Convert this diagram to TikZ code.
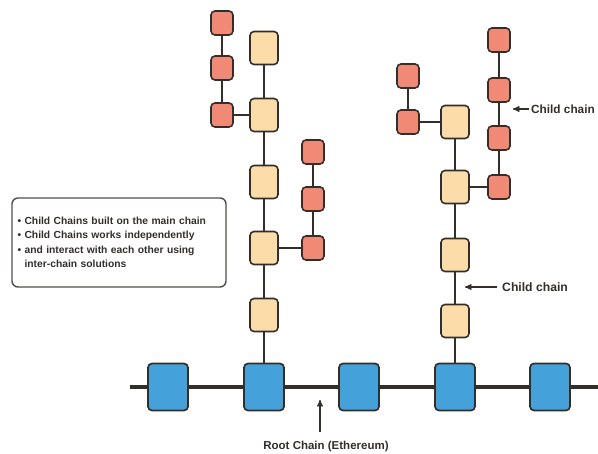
\documentclass[tikz,border=0pt]{standalone}
\usepackage{fontspec}
\setmainfont{Liberation Sans}
\usetikzlibrary{arrows}
\usepackage{xcolor}
\definecolor{rootblue}{HTML}{45A1DA}
\definecolor{chainbeige}{HTML}{FCDCA8}
\definecolor{chainred}{HTML}{F08A76}
\definecolor{darkline}{HTML}{332E2A}

\begin{document}
\begin{tikzpicture}[x=1pt,y=-1pt,>=stealth',
	root node/.style={draw=darkline,fill=rootblue,rounded corners=4pt,line width=1.7pt,minimum width=40pt,minimum height=47pt,inner sep=0pt},
	main node/.style={draw=darkline,fill=chainbeige,rounded corners=4pt,line width=1.6pt,minimum width=28pt,minimum height=33pt,inner sep=0pt},
	side node/.style={draw=darkline,fill=chainred,rounded corners=4pt,line width=1.6pt,minimum width=22pt,minimum height=24pt,inner sep=0pt},
	link/.style={draw=darkline,line width=1.8pt},
	label/.style={font=\fontsize{11.5}{13}\selectfont\bfseries,text=darkline,inner sep=0pt}]
		\useasboundingbox (0,0) rectangle (598,454);
		% Nodes
		  % Root chain
		  \coordinate (start) at (130, 387);
		  \coordinate (end) at (598, 387);
		  \node (R1) at (168, 387) [root node] {};
		  \node (R2) at (264, 387) [root node] {};
		  \node (R3) at (359, 387) [root node] {};
		  \node (R4) at (455, 387) [root node] {};
		  \node (R5) at (550, 387) [root node] {};
		  
		  % Left child chain
		  \node (A1) at (264, 48) [main node] {};
		  \node (A2) at (264, 115) [main node] {};
		  \node (A3) at (264, 182) [main node] {};
		  \node (A4) at (264, 248) [main node] {};
		  \node (A5) at (264, 315) [main node] {};
		  
		  \node (B1) at (222, 23) [side node] {};
		  \node (B2) at (222, 68) [side node] {};
		  \node (B3) at (222, 115) [side node] {};
		  
		  \node (C1) at (313, 152) [side node] {};
		  \node (C2) at (313, 199) [side node] {};
		  \node (C3) at (313, 248) [side node] {};
		  
		  % Right child chain
		  \node (D1) at (455, 122) [main node] {};
		  \node (D2) at (455, 187) [main node] {};
		  \node (D3) at (455, 255) [main node] {};
		  \node (D4) at (455, 321) [main node] {};
		  
		  \node (E1) at (408, 76) [side node] {};
		  \node (E2) at (408, 122) [side node] {};
		  
		  \node (F1) at (499, 40) [side node] {};
		  \node (F2) at (499, 90) [side node] {};
		  \node (F3) at (499, 138) [side node] {};
		  \node (F4) at (499, 187) [side node] {};
		  
		  % Labels
		  \node (note) at (119, 242.5) [draw=darkline!85,line width=1.4pt,rounded corners=6pt,text width=203pt,inner xsep=5.5pt,minimum height=89pt,align=left,text=darkline,font=\fontsize{10.3}{14.5}\selectfont\bfseries]
		    {\textbullet\ Child Chains built on the main chain\\
		     \textbullet\ Child Chains works independently\\
		     \textbullet\ and interact with each other using\\
		     \phantom{\textbullet\ }inter-chain solutions};
		  \node (rootlbl) at (326, 447) [label] {Root Chain (Ethereum)};
		  \coordinate (roottail) at (320, 432);
		  \coordinate (roottip) at (320, 400);
		  \node (childlbl1) at (531, 109) [label,font=\fontsize{11.8}{14}\selectfont\bfseries,anchor=west] {Child chain};
		  \coordinate (childtip1) at (513, 109);
		  \node (childlbl2) at (502, 287) [label,font=\fontsize{12.2}{14}\selectfont\bfseries,anchor=west] {Child chain};
		  \coordinate (childtip2) at (465, 287);
		
		% Edges
		  \draw [link,line width=3.2pt] (start) -- (R1) -- (R2) -- (R3) -- (R4) -- (R5) -- (end);
		  
		  \draw [link] (R2) -- (A5) -- (A4) -- (A3) -- (A2) -- (A1);
		  \draw [link] (A2) -- (B3) -- (B2) -- (B1);
		  \draw [link] (A4) -- (C3) -- (C2) -- (C1);
		  
		  \draw [link] (R4) -- (D4) -- (D3) -- (D2) -- (D1);
		  \draw [link] (D1) -- (E2) -- (E1);
		  \draw [link] (D2) -- (F4) -- (F3) -- (F2) -- (F1);
		  
		  \draw [->,draw=darkline,line width=1.3pt] (roottail) -- (roottip);
		  \draw [->,draw=darkline,line width=1.3pt] (childlbl1.west) ++(-2,0) -- (childtip1);
		  \draw [->,draw=darkline,line width=1.3pt] (childlbl2.west) ++(-5,0) -- (childtip2);
		  
\end{tikzpicture}
\end{document}
